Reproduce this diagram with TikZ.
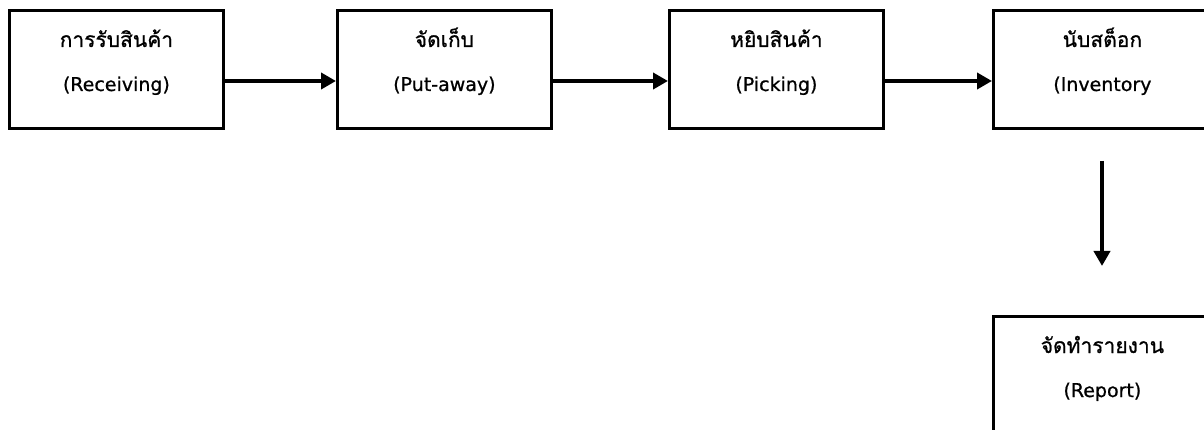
\documentclass[tikz,border=0pt]{standalone}
\usepackage{fontspec}
\setmainfont[Script=Thai,FakeBold=0.8]{Loma}
\newfontfamily\latinfont[FakeBold=0.8]{DejaVu Sans}
\usetikzlibrary{arrows.meta,calc}
\begin{document}
\begin{tikzpicture}[x=1pt,y=-1pt,
  stepbox/.style={draw=black,line width=2.8pt,minimum width=214pt,minimum height=118pt,inner sep=0pt,anchor=north west},
  thlbl/.style={font=\fontsize{21}{24}\selectfont,inner sep=0pt,anchor=base},
  enlbl/.style={font=\latinfont\fontsize{19}{22}\selectfont,inner sep=0pt,anchor=base},
  flow/.style={line width=4.8pt,-{Triangle[length=15pt,width=16pt]}}]
\useasboundingbox (0,0) rectangle (1204,430);
\clip (0,0) rectangle (1204,430);
\node[stepbox] (b1) at (8,9) {};
\node[stepbox] (b2) at (336,9) {};
\node[stepbox] (b3) at (668,9) {};
\node[stepbox,minimum width=218pt] (b4) at (992,9) {};
\node[stepbox,minimum width=218pt] (b5) at (992,315) {};
\foreach \b/\th/\en in {b1/การรับสินค้า/(Receiving), b2/จัดเก็บ/(Put-away), b3/หยิบสินค้า/(Picking), b4/นับสต็อก/(Inventory, b5/จัดทำรายงาน/(Report)}{
  \node[thlbl] (\b th) at ($(\b.north)+(0,38)$) {\th};
  \node[enlbl] (\b en) at ($(\b.north)+(0,82)$) {\en};
}
\draw[flow] (b1.east |- 0,81) -- (b2.west |- 0,81);
\draw[flow] (b2.east |- 0,81) -- (b3.west |- 0,81);
\draw[flow] (b3.east |- 0,81) -- (b4.west |- 0,81);
\coordinate (vs) at (1102,161);
\coordinate (ve) at (1102,266);
\draw[flow] (vs) -- (ve);
\end{tikzpicture}
\end{document}
